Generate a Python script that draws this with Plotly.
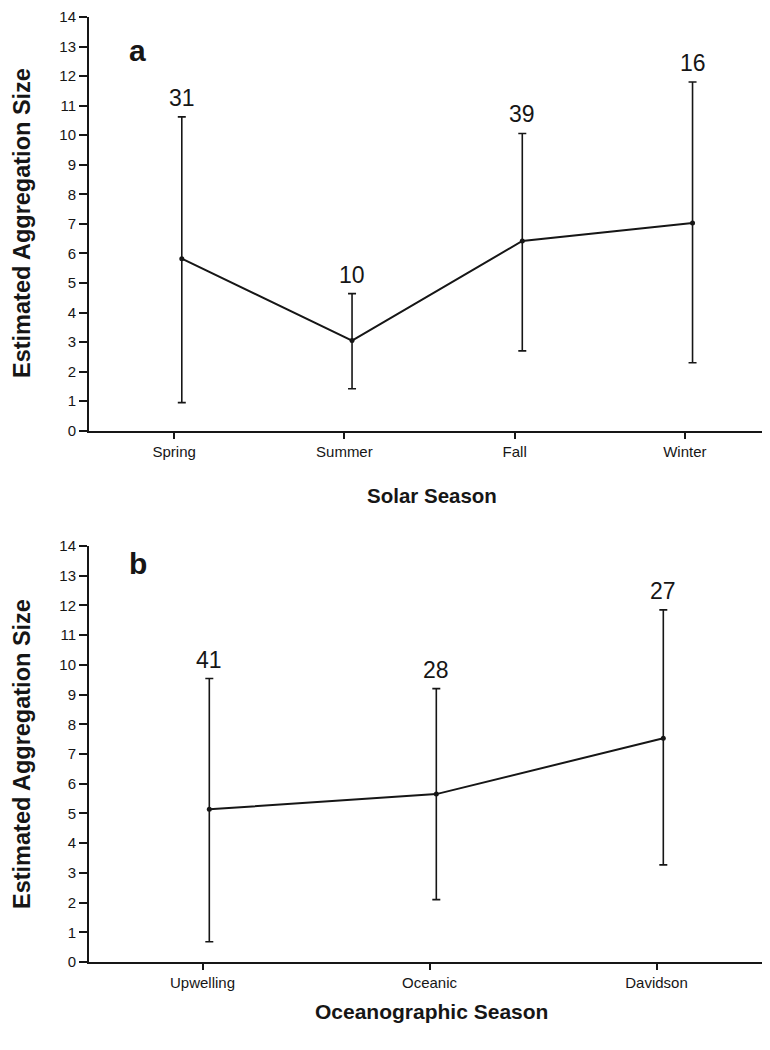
import plotly.graph_objects as go

# Panel a: solar season
solar_seasons = ["Spring", "Summer", "Fall", "Winter"]
solar_mean = [5.82, 3.05, 6.42, 7.03]
solar_upper = [10.62, 4.64, 10.06, 11.8]
solar_lower = [0.95, 1.42, 2.7, 2.3]
solar_n = [31, 10, 39, 16]

# Panel b: oceanographic season
ocean_seasons = ["Upwelling", "Oceanic", "Davidson"]
ocean_mean = [5.14, 5.65, 7.53]
ocean_upper = [9.54, 9.2, 11.85]
ocean_lower = [0.68, 2.1, 3.27]
ocean_n = [41, 28, 27]

y_ticks = list(range(0, 15))

FONT = "Liberation Sans, Arial, Helvetica, sans-serif"
INK = "#161616"

# page body has an 8px margin; figure sized so it reaches the window edges
OFF = 8
W, H = 770 - OFF, 1050 - OFF
ML, MR, MT, MB = 89 - OFF, 0, 17 - OFF, 88
PH = H - MT - MB
PW = W - ML - MR


def fy(screen_pix):
    pix = screen_pix - OFF
    return (H - MB - pix) / PH


def fx(screen_pix):
    pix = screen_pix - OFF
    return (pix - ML) / PW


fig = go.Figure()


def add_panel(cats, mean, upper, lower, counts, xa, ya, offset):
    pos = list(range(len(cats)))
    xs = [p + offset for p in pos]
    plus = [u - m for u, m in zip(upper, mean)]
    minus = [m - l for m, l in zip(mean, lower)]
    fig.add_trace(go.Scatter(
        x=xs, y=mean, mode="lines+markers",
        line=dict(color=INK, width=2),
        marker=dict(color=INK, size=5),
        error_y=dict(type="data", array=plus, arrayminus=minus,
                     color=INK, thickness=1.6, width=4),
        xaxis=xa, yaxis=ya, showlegend=False, hoverinfo="skip",
    ))
    for x, u, n in zip(xs, upper, counts):
        fig.add_annotation(x=x, y=u, xref=xa, yref=ya, text=str(n),
                           showarrow=False, yanchor="bottom", yshift=4,
                           font=dict(family=FONT, size=23, color=INK))


add_panel(solar_seasons, solar_mean, solar_upper, solar_lower, solar_n, "x", "y", 0.045)
add_panel(ocean_seasons, ocean_mean, ocean_upper, ocean_lower, ocean_n, "x2", "y2", 0.03)

yaxis_common = dict(
    range=[0, 14], tickvals=y_ticks, ticktext=[str(t) for t in y_ticks],
    showgrid=False, zeroline=False, showline=True, linecolor=INK, linewidth=2,
    ticks="outside", ticklen=8, tickwidth=1.5, tickcolor=INK,
    tickfont=dict(family=FONT, size=15, color=INK),
    ticklabeloverflow="allow",
)
xaxis_common = dict(
    showgrid=False, zeroline=False, showline=True, linecolor=INK, linewidth=2,
    ticks="outside", ticklen=6, tickwidth=1.5, tickcolor=INK,
    tickfont=dict(family=FONT, size=15, color=INK),
)

fig.update_layout(
    width=W, height=H,
    margin=dict(l=ML, r=MR, t=MT, b=MB, autoexpand=False),
    paper_bgcolor="white", plot_bgcolor="white",
    xaxis=dict(xaxis_common, domain=[0, 1], anchor="y",
               range=[-0.5, len(solar_seasons) - 0.5],
               tickvals=list(range(len(solar_seasons))), ticktext=solar_seasons),
    yaxis=dict(yaxis_common, domain=[fy(430.7), 1], anchor="x"),
    xaxis2=dict(xaxis_common, domain=[0, 1], anchor="y2",
                range=[-0.5, len(ocean_seasons) - 0.5],
                tickvals=list(range(len(ocean_seasons))), ticktext=ocean_seasons),
    yaxis2=dict(yaxis_common, domain=[0, fy(546)], anchor="x2"),
)

# Panel letters
fig.add_annotation(text="<b>a</b>", xref="paper", yref="paper", x=fx(127), y=fy(32),
                   showarrow=False, font=dict(family=FONT, size=30, color=INK))
fig.add_annotation(text="<b>b</b>", xref="paper", yref="paper", x=fx(127), y=fy(563),
                   showarrow=False, font=dict(family=FONT, size=30, color=INK))

# Axis titles
for yc in (223, 754):
    fig.add_annotation(text="<b>Estimated Aggregation Size</b>", xref="paper", yref="paper",
                       x=fx(22), y=fy(yc), textangle=-90, showarrow=False,
                       xanchor="center", yanchor="middle",
                       font=dict(family=FONT, size=23.5, color=INK))
fig.add_annotation(text="<b>Solar Season</b>", xref="paper", yref="paper",
                   x=fx(432), y=fy(495), showarrow=False,
                   font=dict(family=FONT, size=20.5, color=INK))
fig.add_annotation(text="<b>Oceanographic Season</b>", xref="paper", yref="paper",
                   x=fx(431), y=fy(1025), showarrow=False,
                   font=dict(family=FONT, size=21, color=INK))

fig.write_html("out.html")
